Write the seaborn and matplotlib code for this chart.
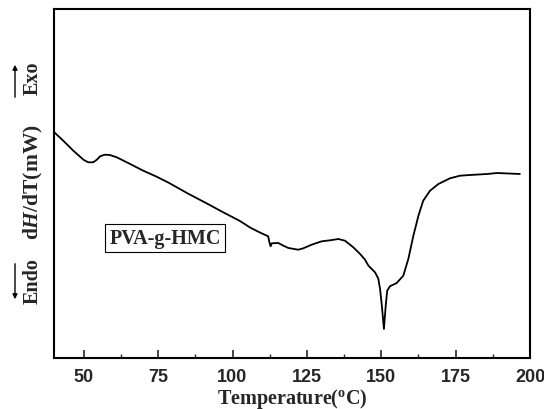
import matplotlib
matplotlib.use("Agg")
import matplotlib.pyplot as plt
import seaborn as sns
import pandas as pd

# DSC trace of PVA-g-HMC (heat flow, arbitrary offset units)
temperature = [40.0, 43.1, 46.5, 49.9, 51.5, 53.2, 54.4, 55.5, 57.1, 58.8,
               61.1, 65.6, 70.0, 74.5, 78.4, 85.0, 91.4, 97.0, 102.5, 105.9,
               109.2, 112.0, 112.4, 112.8, 113.2, 115.4, 117.1, 118.8, 122.1,
               123.8, 126.6, 130.0, 132.8, 135.6, 137.8, 140.6, 142.9, 144.5,
               145.7, 147.9, 149.0, 149.6, 150.2, 150.9, 151.5, 152.0, 152.9,
               155.2, 157.4, 159.1, 160.8, 162.5, 164.1, 166.4, 169.2, 173.1,
               176.5, 179.8, 185.6, 188.9, 196.6]
heat_flow = [226, 217.3, 207.3, 198.3, 195.7, 195.7, 198.3, 201.7, 203.3, 203,
             200.7, 194, 187.3, 181.3, 175.5, 164.5, 154.5, 145.5, 137, 130.5,
             125.5, 121.7, 115.7, 111.7, 114.7, 115, 112.3, 110, 108.3,
             109.7, 113.3, 116.7, 117.7, 119, 117.3, 110.7, 104, 98.5,
             92.3, 85.7, 79.5, 69, 52.3, 29, 52.3, 67.3, 71.7,
             75, 82.3, 99, 122.3, 142.3, 157.3, 167.3, 174, 179.7,
             182.3, 183, 184, 185, 184]
x_ticks = [50, 75, 100, 125, 150, 175, 200]
sample_label = "PVA-g-HMC"

df = pd.DataFrame({"T": temperature, "H": heat_flow})

sns.set_style("white")
plt.rcParams["mathtext.fontset"] = "custom"
plt.rcParams["mathtext.rm"] = "Liberation Serif:bold"
plt.rcParams["mathtext.bf"] = "Liberation Serif:bold"
plt.rcParams["mathtext.bfit"] = "Liberation Serif:bold:italic"
plt.rcParams["mathtext.it"] = "Liberation Serif:bold:italic"

fig = plt.figure(figsize=(5.44, 4.10), dpi=100)
ax = fig.add_axes([54 / 544, 51 / 410, 476 / 544, 349 / 410])

sns.lineplot(data=df, x="T", y="H", color="black", linewidth=1.3, ax=ax)

ax.set_xlim(40, 200)
ax.set_ylim(0, 349)
ax.set_xticks(x_ticks)
ax.set_xticks([62.5, 87.5, 112.5, 137.5, 162.5, 187.5], minor=True)
ax.set_yticks([])
ax.tick_params(axis="x", which="major", direction="in", length=6, width=1.2,
               bottom=True, top=False, pad=7)
ax.tick_params(axis="x", which="minor", direction="in", length=3, width=1.0,
               bottom=True, top=False)
for lbl in ax.get_xticklabels():
    lbl.set_fontfamily("Liberation Sans")
    lbl.set_fontweight("bold")
    lbl.set_fontsize(13)

for s in ax.spines.values():
    s.set_linewidth(1.5)
    s.set_color("black")

ax.set_xlabel(r"Temperature($^{\mathbf{o}}$C)", fontfamily="Liberation Serif",
              fontweight="bold", fontsize=14.5, labelpad=1)
ax.set_ylabel("")

# Vertical axis caption with exo/endo direction markers
fig.text(33 / 544, 1 - 182 / 410, r"d$\mathbfit{H}$/dT(mW)", rotation=90,
         ha="center", va="center", fontfamily="Liberation Serif",
         fontweight="bold", fontsize=15.5)
fig.text(33 / 544, 1 - 78 / 410, "Exo", rotation=90, ha="center", va="center",
         fontfamily="Liberation Serif", fontweight="bold", fontsize=14.5)
fig.text(33 / 544, 1 - 281 / 410, "Endo", rotation=90, ha="center", va="center",
         fontfamily="Liberation Serif", fontweight="bold", fontsize=14.5)
fig.patches.append(matplotlib.patches.FancyArrowPatch(
    (15 / 544, 1 - 101 / 410), (15 / 544, 1 - 63 / 410),
    transform=fig.transFigure, arrowstyle="-|>", mutation_scale=7,
    color="black", linewidth=1.0))
fig.patches.append(matplotlib.patches.FancyArrowPatch(
    (15 / 544, 1 - 262 / 410), (15 / 544, 1 - 303 / 410),
    transform=fig.transFigure, arrowstyle="-|>", mutation_scale=7,
    color="black", linewidth=1.0))

ax.text(165 / 544, 1 - 239 / 410, sample_label, transform=fig.transFigure,
        ha="center", va="center", fontfamily="Liberation Serif",
        fontweight="bold", fontsize=14.5,
        bbox=dict(boxstyle="square,pad=0.2", facecolor="white",
                  edgecolor="black", linewidth=0.8))

fig.savefig("out.png", dpi=100)
